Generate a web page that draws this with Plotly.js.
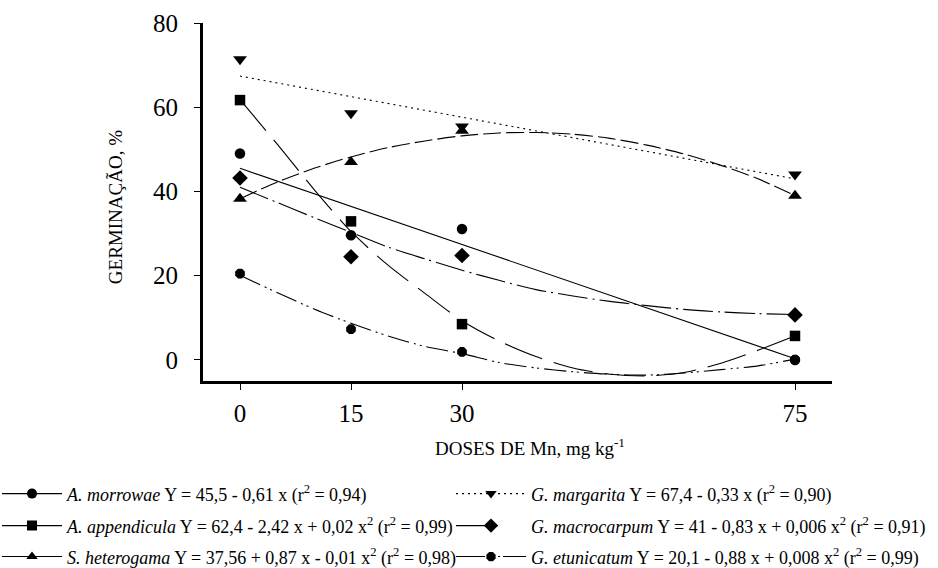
<!DOCTYPE html>
<html>
<head>
<meta charset="utf-8">
<script src="https://cdn.plot.ly/plotly-3.0.1.min.js"></script>
<style>html,body{margin:0;padding:0;background:#fff;}#chart{width:938px;height:568px;}</style>
</head>
<body>
<div id="chart"></div>
<script>
// Doses (x) where germination was measured
const doses = [0, 15, 30, 75];

// Observed germination (%) per species
const morrowae    = [49.0, 29.6, 31.1, 0.0];
const appendicula = [61.7, 32.9, 8.5, 5.7];
const heterogama  = [38.3, 47.0, 54.4, 39.0];
const margarita   = [71.4, 58.6, 55.4, 44.0];
const macrocarpum = [43.2, 24.5, 24.8, 10.7];
const etunicatum  = [20.5, 7.3, 1.9, 0.1];

// Fitted curves
const lineX = [0, 75];
const morrowaeFit  = [45.5, 0.3];
const margaritaFit = [67.4, 43.0];
const curveX = [0, 5, 10, 15, 20, 25, 30, 35, 40, 45, 50, 55, 60, 65, 70, 75];
const appendiculaFit = [61.8, 51.3, 40.5, 30.5, 22.5, 15.8, 9.3, 4.5, 0.8, -1.9, -3.4, -3.8, -3.0, -0.8, 2.3, 5.7];
const heterogamaFit  = [38.3, 42.2, 45.5, 48.2, 50.4, 52.0, 53.2, 53.9, 54.0, 53.6, 52.6, 51.0, 48.9, 46.2, 43.0, 39.0];
const macrocarpumFit = [41.0, 37.4, 33.8, 30.3, 26.8, 24.0, 21.3, 18.9, 16.7, 15.2, 13.9, 12.9, 12.0, 11.4, 11.0, 10.8];
const etunicatumFit  = [20.1, 16.0, 12.1, 8.7, 5.7, 3.2, 1.5, -0.6, -1.9, -2.8, -3.4, -3.6, -3.1, -2.3, -1.4, 0.2];

// Tick labels
const xTicks = [0, 15, 30, 75];
const yTicks = [0, 20, 40, 60, 80];

// Legend labels
const labels = [
  '<i>A. morrowae</i> Y = 45,5 - 0,61 x (r<sup>2</sup> = 0,94)',
  '<i>A. appendicula</i> Y = 62,4 - 2,42 x + 0,02 x<sup>2</sup> (r<sup>2</sup> = 0,99)',
  '<i>S. heterogama</i> Y = 37,56 + 0,87 x - 0,01 x<sup>2</sup> (r<sup>2</sup> = 0,98)',
  '<i>G. margarita</i> Y = 67,4 - 0,33 x (r<sup>2</sup> = 0,90)',
  '<i>G. macrocarpum</i> Y = 41 - 0,83 x + 0,006 x<sup>2</sup> (r<sup>2</sup> = 0,91)',
  '<i>G. etunicatum</i> Y = 20,1 - 0,88 x + 0,008 x<sup>2</sup> (r<sup>2</sup> = 0,99)'
];

const K = '#000';
const SERIF = 'Liberation Serif';
const dashes = {
  solid: 'solid',
  long: '40px,12px',
  dash: '18px,5px',
  dot: '2px,4px',
  dashdot: '30px,5px,2px,5px',
  dashdotdot: '22px,5px,2px,4px,2px,5px'
};

const series = [
  {y: morrowae,    fx: lineX,  fy: morrowaeFit,    sym: 'circle',        dash: dashes.solid,      legDash: 'solid', lg: 'legend'},
  {y: appendicula, fx: curveX, fy: appendiculaFit, sym: 'square',        dash: dashes.long,       legDash: 'solid', lg: 'legend2'},
  {y: heterogama,  fx: curveX, fy: heterogamaFit,  sym: 'triangle-up',   dash: dashes.dash,       legDash: 'solid', lg: 'legend3'},
  {y: margarita,   fx: lineX,  fy: margaritaFit,   sym: 'triangle-down', dash: dashes.dot,        legDash: dashes.dot, lg: 'legend4'},
  {y: macrocarpum, fx: curveX, fy: macrocarpumFit, sym: 'diamond',       dash: dashes.dashdot,    legDash: '30px,4px,8px', lg: 'legend5'},
  {y: etunicatum,  fx: curveX, fy: etunicatumFit,  sym: 'octagon',       dash: dashes.dashdotdot, legDash: '29px,3px,2px,3px,2px,3px,2px,3px', lg: 'legend6'}
];

const traces = [];
series.forEach((s) => {
  traces.push({
    x: s.fx, y: s.fy, type: 'scatter', mode: 'lines',
    line: {color: K, width: 1.1, dash: s.dash, shape: s.fx.length > 2 ? 'spline' : 'linear', smoothing: 0.8},
    showlegend: false, hoverinfo: 'skip'
  });
});
series.forEach((s) => {
  traces.push({
    x: doses, y: s.y, type: 'scatter', mode: 'markers',
    marker: {symbol: s.sym, size: s.sym === 'diamond' ? 12 : (s.sym.indexOf('triangle') === 0 ? 12 : 10.5), color: K},
    showlegend: false
  });
});
series.forEach((s, i) => {
  traces.push({
    x: [null], y: [null], type: 'scatter', mode: 'lines+markers',
    name: labels[i], legend: s.lg,
    line: {color: K, width: 1.1, dash: s.legDash},
    marker: {symbol: s.sym, size: s.sym === 'diamond' ? 11 : 10, color: K},
    showlegend: true
  });
});

const W = 629, H = 358.3, L = 203, T = 22.7;
function px(x) { return (x - L) / W; }
function py(y) { return (T + H - y) / H; }
const legFont = {family: SERIF, size: 18, color: K};
function leg(x, y, iw) {
  return {x: px(x), y: py(y), xanchor: 'left', yanchor: 'middle', font: legFont, itemwidth: iw,
          bgcolor: 'rgba(0,0,0,0)', borderwidth: 0, orientation: 'v', itemclick: false, itemdoubleclick: false};
}

const layout = {
  width: 938, height: 568,
  paper_bgcolor: '#fff', plot_bgcolor: '#fff',
  margin: {l: 203, r: 106, t: 22.7, b: 187.3, autoexpand: false},
  font: {family: SERIF, color: K},
  xaxis: {
    range: [-5, 80], tickmode: 'array', tickvals: xTicks, ticktext: xTicks.map(String),
    showgrid: false, zeroline: false, showline: true, linewidth: 3, linecolor: K,
    ticks: 'outside', ticklen: 6, tickwidth: 1, tickcolor: K,
    tickfont: {size: 25, family: SERIF, color: K}, ticklabelstandoff: 2
  },
  yaxis: {
    range: [-5, 80], tickmode: 'array', tickvals: yTicks, ticktext: yTicks.map(String),
    showgrid: false, zeroline: false, showline: true, linewidth: 3, linecolor: K,
    ticks: 'outside', ticklen: 6, tickwidth: 1, tickcolor: K,
    tickfont: {size: 25, family: SERIF, color: K}, ticklabelstandoff: 11
  },
  annotations: [
    {text: 'DOSES DE Mn, mg kg<sup>-1</sup>', xref: 'paper', yref: 'paper', x: px(530), y: py(447),
     xanchor: 'center', yanchor: 'middle', showarrow: false, font: {size: 19, family: SERIF, color: K}},
    {text: 'GERMINAÇÃO, %', xref: 'paper', yref: 'paper', x: px(115), y: py(207), textangle: -90,
     xanchor: 'center', yanchor: 'middle', showarrow: false, font: {size: 19, family: SERIF, color: K}}
  ],
  legend: leg(-3, 494, 60), legend2: leg(-3, 526, 60), legend3: leg(-3, 557, 60),
  legend4: leg(451, 494, 70), legend5: leg(451, 526, 70), legend6: leg(451, 557, 70)
};

Plotly.newPlot('chart', traces, layout, {displayModeBar: false, staticPlot: true});
</script>
</body>
</html>
